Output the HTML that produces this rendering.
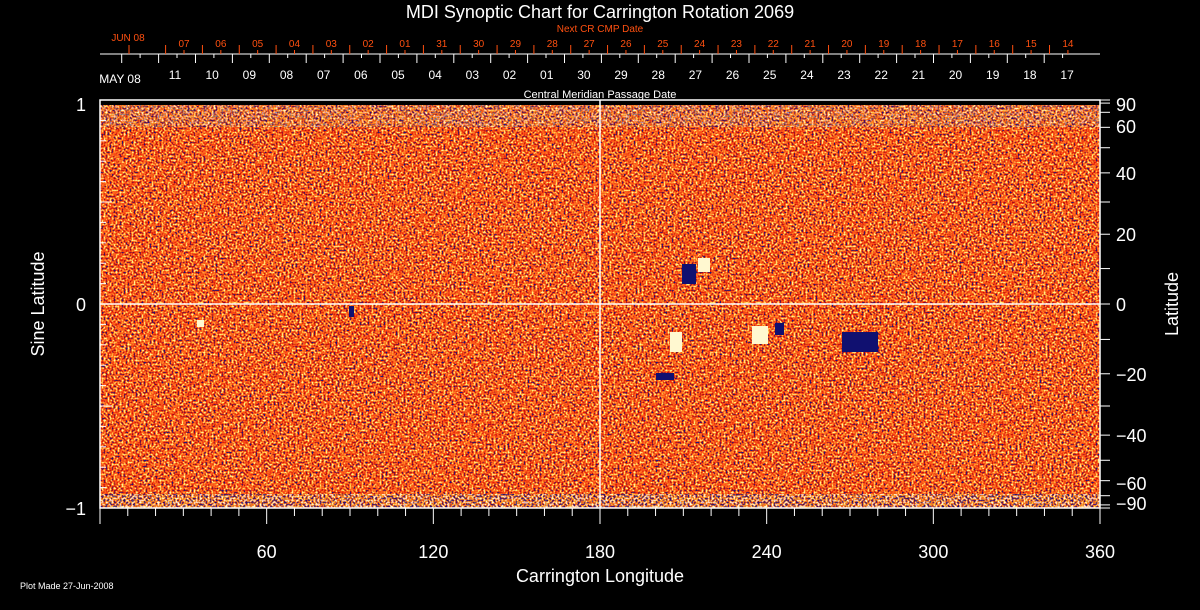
<!DOCTYPE html>
<html><head><meta charset="utf-8"><style>
html,body{margin:0;padding:0;background:#000;width:1200px;height:610px;overflow:hidden}
svg{display:block}
text{font-family:"Liberation Sans",sans-serif}
</style></head><body>
<svg id="s" width="1200" height="610" viewBox="0 0 1200 610" xmlns="http://www.w3.org/2000/svg">
<defs>
<filter id="n" x="100" y="105" width="1000" height="403" filterUnits="userSpaceOnUse" color-interpolation-filters="sRGB">
<feTurbulence type="fractalNoise" baseFrequency="0.5" numOctaves="2" seed="3"/>
<feColorMatrix type="matrix" values="1 0 0 0 0  1 0 0 0 0  1 0 0 0 0  0 0 0 0 1"/>
<feComponentTransfer>
<feFuncR type="linear" slope="2.4" intercept="-0.7"/>
<feFuncG type="linear" slope="2.4" intercept="-0.7"/>
<feFuncB type="linear" slope="2.4" intercept="-0.7"/>
</feComponentTransfer>
<feComponentTransfer>
<feFuncR type="discrete" tableValues="0.1 0.6 0.72 0.8 0.86 0.9 0.93 0.95 0.97 0.98 1 1 1 1 1 1 1 1 1 1"/>
<feFuncG type="discrete" tableValues="0.1 0.05 0.06 0.08 0.1 0.13 0.17 0.22 0.27 0.32 0.37 0.42 0.47 0.52 0.58 0.64 0.7 0.78 0.86 0.95"/>
<feFuncB type="discrete" tableValues="0.5 0.05 0.05 0.05 0.05 0.05 0.06 0.07 0.08 0.09 0.1 0.12 0.14 0.16 0.18 0.2 0.22 0.25 0.3 0.6"/>
<feFuncA type="discrete" tableValues="1"/>
</feComponentTransfer>
</filter>
<filter id="n2" x="100" y="0" width="1000" height="610" filterUnits="userSpaceOnUse" color-interpolation-filters="sRGB">
<feTurbulence type="fractalNoise" baseFrequency="0.5" numOctaves="1" seed="7"/>
<feColorMatrix type="matrix" values="1 0 0 0 0  1 0 0 0 0  1 0 0 0 0  0 0 0 0 1"/>
<feComponentTransfer>
<feFuncR type="linear" slope="3" intercept="-1"/>
<feFuncG type="linear" slope="3" intercept="-1"/>
<feFuncB type="linear" slope="3" intercept="-1"/>
</feComponentTransfer>
<feComponentTransfer>
<feFuncR type="discrete" tableValues="0.05 0.1 0.85 0.95 1 1 1 1"/>
<feFuncG type="discrete" tableValues="0.05 0.1 0.15 0.4 0.7 0.9 1 1"/>
<feFuncB type="discrete" tableValues="0.5 0.7 0.05 0.1 0.2 0.3 0.9 1"/>
<feFuncA type="discrete" tableValues="1"/>
</feComponentTransfer>
</filter>
<clipPath id="c1"><rect x="100" y="105" width="1000" height="22"/></clipPath>
<clipPath id="c2"><rect x="100" y="494" width="1000" height="14"/></clipPath>
</defs>
<rect x="100" y="105" width="1000" height="403" fill="#e85a20"/>
<rect x="100" y="105" width="1000" height="403" fill="#e85a20" filter="url(#n)"/>
<g clip-path="url(#c1)" opacity="0.5"><rect x="100" y="0" width="1000" height="610" filter="url(#n2)"/></g>
<g clip-path="url(#c2)" opacity="0.7"><rect x="100" y="0" width="1000" height="610" filter="url(#n2)"/></g>
<!-- active regions -->
<g fill="#fff8d0"><rect x="698" y="258" width="12" height="14"/><rect x="752" y="326" width="16" height="18"/><rect x="670" y="332" width="12" height="20"/><rect x="197" y="320" width="7" height="7"/></g>
<g fill="#101070"><rect x="682" y="264" width="14" height="20"/><rect x="775" y="323" width="9" height="12"/><rect x="842" y="332" width="36" height="20"/><rect x="656" y="373" width="18" height="7"/><rect x="349" y="306" width="5" height="11"/></g>
<line x1="600" y1="100" x2="600" y2="508" stroke="#fff" stroke-width="1.5"/>
<line x1="100" y1="304" x2="1100" y2="304" stroke="#fff" stroke-width="1.5"/>
<rect x="100" y="100" width="1000" height="408" fill="none" stroke="#fff" stroke-width="1.5"/>
<line x1="100" y1="54" x2="1100" y2="54" stroke="#fff"/>
<text x="600" y="18" fill="#fff" font-size="18" text-anchor="middle">MDI Synoptic Chart for Carrington Rotation 2069</text>
<text x="600" y="32" fill="#ff5010" font-size="10" text-anchor="middle">Next CR CMP Date</text>
<text x="600" y="98" fill="#fff" font-size="11" text-anchor="middle">Central Meridian Passage Date</text>
<text x="128" y="41" fill="#ff5010" font-size="10" text-anchor="middle">JUN 08</text>
<text x="120" y="83" fill="#fff" font-size="12" text-anchor="middle">MAY 08</text>
<text x="38" y="310" fill="#fff" font-size="18" text-anchor="middle" transform="rotate(-90 38 304)">Sine Latitude</text>
<text x="1172" y="310" fill="#fff" font-size="18" text-anchor="middle" transform="rotate(-90 1172 304)">Latitude</text>
<text x="600" y="582" fill="#fff" font-size="18" text-anchor="middle">Carrington Longitude</text>
<text x="20" y="589" fill="#fff" font-size="9">Plot Made 27-Jun-2008</text>
<g fill="#fff" font-size="18" text-anchor="end"><text x="86" y="111">1</text><text x="86" y="311">0</text><text x="86" y="515">−1</text></g>
<g id="g"></g>
</svg>
<script>
var g=document.getElementById('g'),ns='http://www.w3.org/2000/svg';
function L(a,b,c,d,col){var e=document.createElementNS(ns,'line');e.setAttribute('x1',a);e.setAttribute('y1',b);e.setAttribute('x2',c);e.setAttribute('y2',d);e.setAttribute('stroke',col||'#fff');g.appendChild(e);}
function T(x,y,s,sz,col,anc){var e=document.createElementNS(ns,'text');e.setAttribute('x',x);e.setAttribute('y',y);e.setAttribute('fill',col||'#fff');e.setAttribute('font-size',sz);e.setAttribute('text-anchor',anc||'middle');e.textContent=s;g.appendChild(e);}
var blk=['11','10','09','08','07','06','05','04','03','02','01','30','29','28','27','26','25','24','23','22','21','20','19','18','17'];
for(var i=0;i<25;i++){var x=175+i*37.17;T(x,79,blk[i],12);}
for(var i=0;i<26;i++){var x=121.7+i*36.9;if(x<1100){L(x,54,x,63);} if(x+18<1100)L(x+18.4,54,x+18.4,58);}
var red=['07','06','05','04','03','02','01','31','30','29','28','27','26','25','24','23','22','21','20','19','18','17','16','15','14'];
for(var i=0;i<25;i++){var x=184+i*36.83;T(x,47,red[i],10,'#ff5010');L(x,54,x,50,'#ff5010');L(x-18.4,54,x-18.4,45,'#ff5010');}
L(129,54,129,45,'#ff5010');
for(var d=0;d<=360;d+=10){var x=100+d*1000/360;var m=d%60==0;L(x,508,x,m?524:516);if(m&&d>0)T(x,558,String(d),18);}
for(var v=-1;v<=1.001;v+=0.1){var y=304-204*v;L(100,y,Math.round(v*10)%5==0?112:106,y);}
for(var la=-90;la<=90;la+=10){var y=304-204*Math.sin(la*Math.PI/180);L(1100,y,1110,y);}
[90,60,40,20,0,-20,-40,-60,-90].forEach(function(la){var y=304-204*Math.sin(la*Math.PI/180);var yy=y+7;if(la==90)yy=111;if(la==60)yy=133;if(la==-60)yy=490;if(la==-90)yy=510;T(1116,yy,la<0?'−'+(-la):String(la),18,'#fff','start');});
</script>
</body></html>
